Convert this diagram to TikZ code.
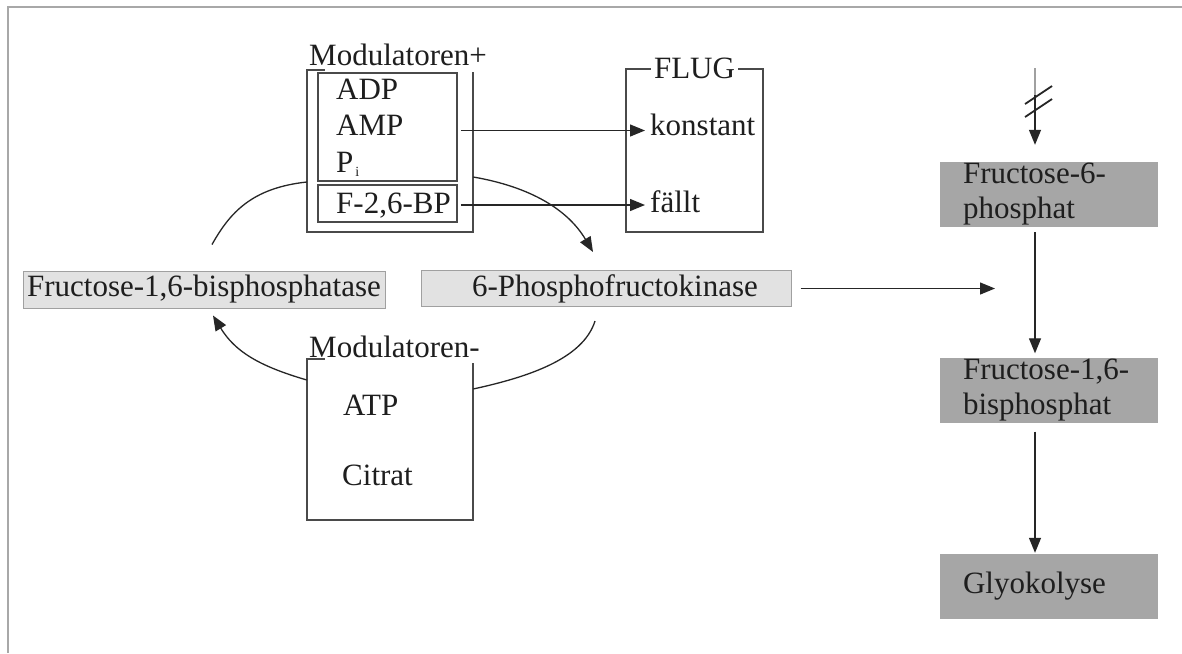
\documentclass[tikz,border=0pt]{standalone}
\usepackage{fontspec}
\setmainfont{Liberation Serif}
\usetikzlibrary{arrows.meta}
\definecolor{boxline}{HTML}{4A4A4A}
\definecolor{lightfill}{HTML}{E2E2E2}
\definecolor{lightline}{HTML}{A0A0A0}
\definecolor{darkfill}{HTML}{A6A6A6}
\definecolor{frameline}{HTML}{A8A8A8}
\definecolor{txt}{HTML}{1E1E1E}
\begin{document}
\begin{tikzpicture}[x=1pt,y=-1pt,
  font=\fontsize{31}{35}\selectfont, text=txt,
  lbl/.style={inner sep=0pt, anchor=base west},
  framebox/.style={rectangle, draw=boxline, line width=1.5pt, inner sep=0pt},
  hollow/.style={rectangle, inner sep=0pt},
  boxpath/.style={draw=boxline, line width=1.5pt},
  lightbox/.style={rectangle, fill=lightfill, draw=lightline, line width=1pt, inner sep=0pt},
  darkbox/.style={rectangle, fill=darkfill, text width=172pt, align=left, inner xsep=23pt, inner ysep=0pt, minimum height=65pt},
  arr/.style={draw=black!85, line width=1.3pt, -{Triangle[length=15pt,width=12pt]}},
  arc/.style={draw=black!85, line width=1.3pt}]
\useasboundingbox (0,0) rectangle (1182,653);
\fill[white] (0,0) rectangle (1182,653);
% frame lines
\draw[frameline, line width=1.5pt] (8,653) -- (8,7) -- (1182,7);

% Modulatoren+
\node[hollow, minimum width=166pt, minimum height=162pt] (modp) at (390,151) {};
\draw[boxpath] ([xshift=18pt]modp.north west) -- (modp.north west) -- (modp.south west) -- (modp.south east) -- ([yshift=-2pt]modp.north east);
\node[lbl] (modpt) at (309,65) {Modulatoren+};
\node[framebox, minimum width=139pt, minimum height=108pt] (in1) at (387.5,127) {};
\node[framebox, minimum width=139pt, minimum height=37pt] (in2) at (387.5,203.5) {};
\node[lbl] (adp) at (336,99) {ADP};
\node[lbl] (amp) at (336,135) {AMP};
\node[lbl] (pi) at (336,172) {P\hspace{2pt}\raisebox{-4pt}{\fontsize{14}{14}\selectfont i}};
\node[lbl] (f26) at (336,213) {F-2,6-BP};

% FLUG
\node[framebox, minimum width=137pt, minimum height=163pt] (flug) at (694.5,150.5) {};
\node[inner ysep=0pt, inner xsep=3pt, anchor=base, fill=white] (flugt) at (694.5,78) {FLUG};
\node[lbl] (konst) at (650,135) {konstant};
\node[lbl] (faellt) at (650,212) {fällt};

\path ([yshift=-3.5pt]in1.east) coordinate (s1);
\draw[arr, shorten <=3pt, shorten >=5pt] (s1) -- (s1 -| konst.west);
\path ([yshift=-1.5pt]in2.east) coordinate (s2);
\draw[arr, shorten <=3pt, shorten >=5pt] (s2) -- (s2 -| faellt.west);

% enzymes
\node[lightbox, minimum width=362pt, minimum height=37pt] (fbp) at (204,289.5) {Fructose-1,6-bisphosphatase};
\node[lightbox, minimum width=370pt, minimum height=36pt] (pfk) at (606,288.5) {\hspace*{18pt}6-Phosphofructokinase};

% Modulatoren-
\node[hollow, minimum width=166pt, minimum height=161pt] (modm) at (390,439.5) {};
\draw[boxpath] ([xshift=18pt]modm.north west) -- (modm.north west) -- (modm.south west) -- (modm.south east) -- ([yshift=-4pt]modm.north east);
\node[lbl] (modmt) at (309,357) {Modulatoren-};
\node[lbl] (atp) at (343,415) {ATP};
\node[lbl] (cit) at (342,485) {Citrat};

% arcs
\draw[arc] ([yshift=-31pt]modp.west) .. controls +(-55,6) and +(18,-32) .. ([xshift=8pt,yshift=26pt]fbp.north);
\draw[arr] ([yshift=59.5pt]modm.west) .. controls +(-48,-14) and +(22,36) .. ([xshift=9pt,yshift=-7pt]fbp.south);
\draw[arr] ([yshift=-26pt]modp.east) .. controls +(58,10) and +(-25,-42) .. ([xshift=-13pt,yshift=18pt]pfk.north);
\draw[arc] ([xshift=-11pt,yshift=-14pt]pfk.south) .. controls +(-12,38) and +(55,-12) .. ([yshift=50.5pt]modm.east);

% right column
\node[darkbox] (f6p) at (1049,194.5) {Fructose-6-\\phosphat};
\node[darkbox] (f16) at (1049,390) {Fructose-1,6-\\bisphosphat};
\node[darkbox] (gly) at (1049,586.5) {Glyokolyse};

\coordinate (topin) at (1035,68);
\coordinate (mid) at (1035,95);
\draw[draw=lightline, line width=1.2pt] (topin) -- (mid);
\draw[arr, shorten >=17pt] (mid) -- (mid |- f6p.north);
\draw[line width=1.8pt, black!85] (1025,104) -- (1052,86);
\draw[line width=1.8pt, black!85] (1025,117) -- (1052,99);
\draw[arr, shorten <=5pt, shorten >=4pt] (f6p.south -| topin) -- (f16.north -| topin);
\draw[arr, shorten <=9pt, shorten >=1pt] (f16.south -| topin) -- (gly.north -| topin);

\coordinate (hit) at (995,290);
\draw[arr, shorten <=9pt] (pfk.east) -- (pfk.east -| hit);
\end{tikzpicture}
\end{document}
